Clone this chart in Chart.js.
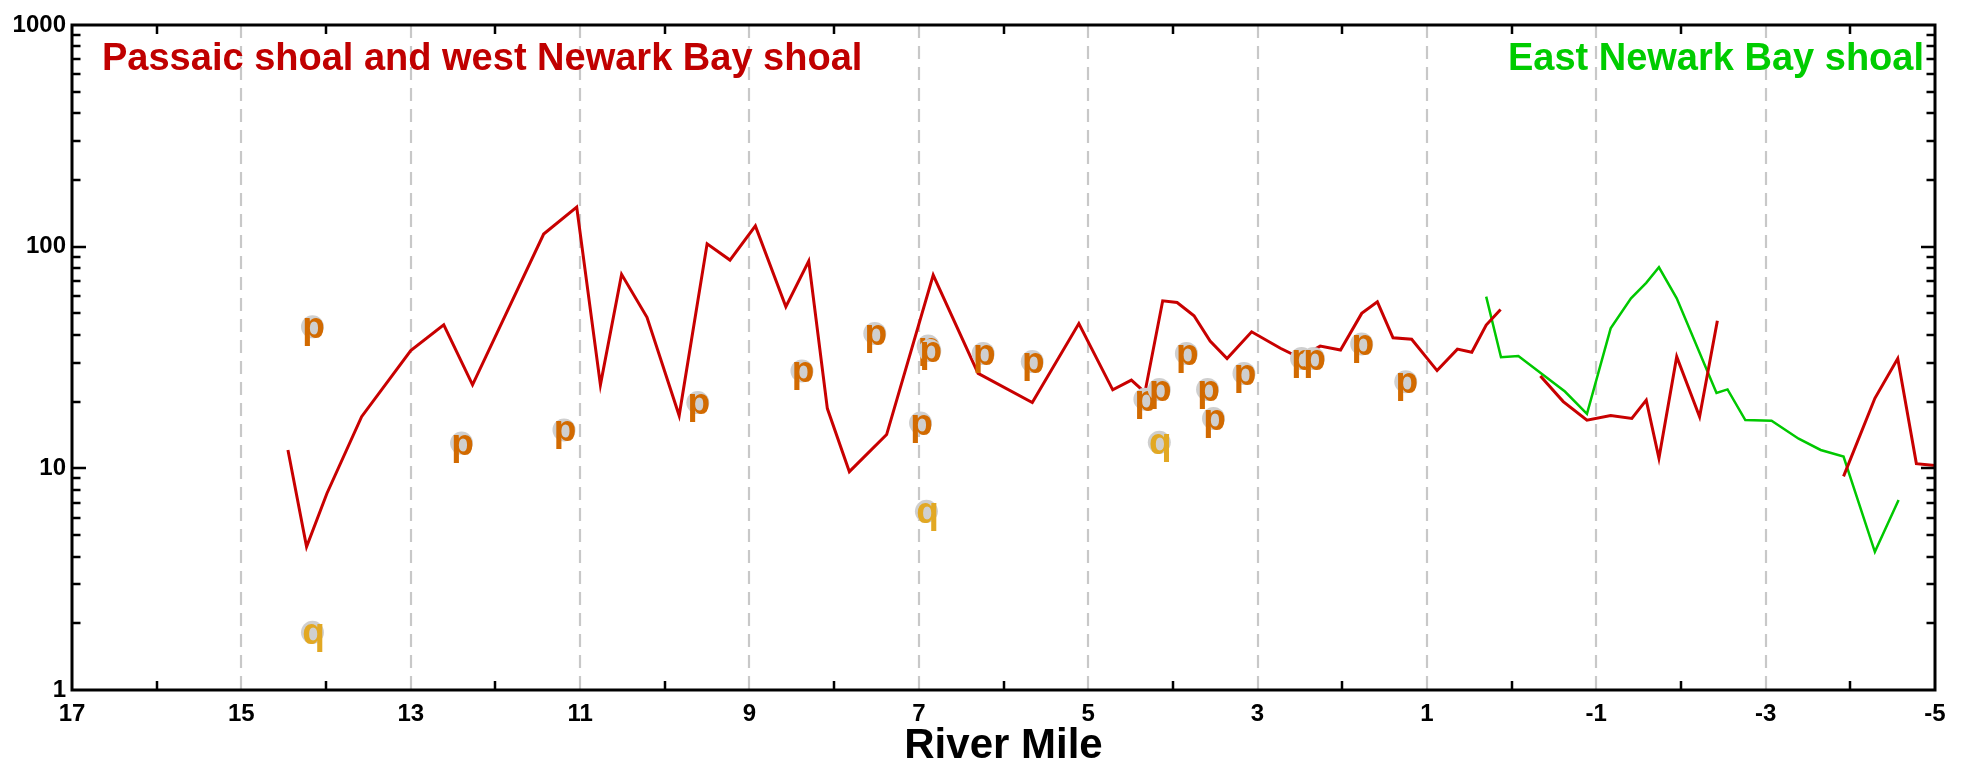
<!DOCTYPE html>
<html>
<head>
<meta charset="utf-8">
<script src="https://cdn.jsdelivr.net/npm/chart.js@4/dist/chart.umd.min.js"></script>
<style>
html,body{margin:0;padding:0;background:#fff;}
#c{display:block;}
</style>
</head>
<body>
<canvas id="c" width="1962" height="767"></canvas>
<script>
// ---- data ----
const redX = [14.45,14.23,13.99,13.58,13.0,12.61,12.27,11.43,11.04,10.76,10.51,10.21,9.83,9.50,9.23,8.93,8.57,8.30,8.08,7.82,7.38,6.83,6.30,5.66,5.11,4.71,4.49,4.33,4.12,3.95,3.75,3.56,3.36,3.07,2.73,2.50,2.26,2.02,1.77,1.585,1.40,1.18,0.88,0.64,0.47,0.30,0.13,
  0,
  -0.34,-0.61,-0.89,-1.17,-1.42,-1.59,-1.74,-1.95,-2.22,-2.43,
  -3.2,
  -3.92,-4.29,-4.56,-4.78,-5.0];
const redY = [12.1,4.43,7.7,17.1,34,44.4,23.8,114,151,23.8,75,48,17.3,103,87,124,53.6,86,18.6,9.66,14.2,74.5,26.8,19.8,45,22.6,25,22,57,56,48.8,37.5,31.3,41.3,34.8,31.5,35.6,34.2,50,56.4,38.8,38.2,27.6,34.5,33.4,44.3,52.1,
  null,
  26.1,20,16.5,17.3,16.8,20.3,11.1,31.9,17.1,46.3,
  null,
  9.2,20.7,31.3,10.5,10.3];
const greenX = [0.30,0.125,-0.08,-0.63,-0.89,-1.17,-1.41,-1.59,-1.74,-1.95,-2.42,-2.55,-2.76,-3.07,-3.39,-3.65,-3.92,-4.29,-4.57];
const greenY = [59.5,31.7,32.1,22.2,17.6,42.8,58.5,68.7,80.7,58.5,21.9,22.7,16.5,16.4,13.6,12.1,11.3,4.2,7.2];
const pX = [14.16,12.40,11.19,9.61,8.38,7.52,6.89,6.87,6.98,6.24,5.66,4.33,4.16,3.84,3.59,3.52,3.16,2.48,2.34,1.77,1.25];
const pY = [43.5,13.0,14.9,19.8,27.5,40.6,35.6,34.0,16.0,33.0,30.3,20.5,22.7,33.0,22.7,16.8,26.8,31.3,31.3,36.4,24.6];
const qX = [14.16,6.91,4.16];
const qY = [1.82,6.4,13.1];
const xLabelValues = [17,15,13,11,9,7,5,3,1,-1,-3,-5];
const yLabelValues = [1,10,100,1000];
const gridX = [15,13,11,9,7,5,3,1,-1,-3];
const evenTickX = [16,14,12,10,8,6,4,2,0,-2,-4];
const titleLeft = 'Passaic shoal and west Newark Bay shoal';
const titleRight = 'East Newark Bay shoal';
const xTitle = 'River Mile';

const FONT = '"Liberation Sans", Arial, Helvetica, sans-serif';
const toPts = (xs, ys) => xs.map((v, i) => ({x: v, y: ys[i]}));

const decorPlugin = {
  id: 'decor',
  beforeDatasetsDraw(chart) {
    const {ctx, chartArea: a, scales: {x}} = chart;
    ctx.save();
    ctx.strokeStyle = '#c8c8c8';
    ctx.lineWidth = 2.2;
    ctx.setLineDash([13, 8]);
    gridX.forEach(v => {
      const px = Math.round(x.getPixelForValue(v));
      ctx.beginPath(); ctx.moveTo(px, a.top); ctx.lineTo(px, a.bottom); ctx.stroke();
    });
    ctx.restore();
  },
  afterDatasetsDraw(chart) {
    const {ctx, chartArea: a, scales: {x, y}} = chart;
    ctx.save();
    // letter markers, placed at the library's computed point positions
    chart.data.datasets.forEach((ds, i) => {
      if (!ds.letter) return;
      const meta = chart.getDatasetMeta(i);
      meta.data.forEach(el => {
        ctx.fillStyle = '#cfcfcf';
        ctx.beginPath(); ctx.arc(el.x, el.y, 11.5, 0, Math.PI * 2); ctx.fill();
        ctx.fillStyle = ds.letterColor;
        ctx.font = 'bold 37px ' + FONT;
        ctx.textAlign = 'center';
        ctx.textBaseline = 'alphabetic';
        ctx.fillText(ds.letter, el.x + 1, el.y + 11.5);
      });
    });
    ctx.strokeStyle = '#000';
    ctx.lineWidth = 2.5;
    evenTickX.forEach(v => {
      const px = Math.round(x.getPixelForValue(v));
      ctx.beginPath();
      ctx.moveTo(px, a.bottom); ctx.lineTo(px, a.bottom - 9);
      ctx.moveTo(px, a.top); ctx.lineTo(px, a.top + 9);
      ctx.stroke();
    });
    [1, 10, 100].forEach(d => {
      for (let m = 1; m <= 9; m++) {
        const v = d * m;
        if (v === 1) continue;
        const len = m === 1 ? 14 : 8.5;
        const py = Math.round(y.getPixelForValue(v));
        ctx.beginPath();
        ctx.moveTo(a.left, py); ctx.lineTo(a.left + len, py);
        ctx.moveTo(a.right, py); ctx.lineTo(a.right - len, py);
        ctx.stroke();
      }
    });
    ctx.lineWidth = 3;
    ctx.strokeRect(a.left, a.top, a.right - a.left, a.bottom - a.top);
    ctx.restore();
  },
  afterDraw(chart) {
    const {ctx} = chart;
    ctx.save();
    ctx.font = 'bold 38px ' + FONT;
    ctx.textBaseline = 'alphabetic';
    ctx.fillStyle = '#C00000';
    ctx.textAlign = 'left';
    ctx.fillText(titleLeft, 102, 70);
    ctx.fillStyle = '#00CC00';
    ctx.textAlign = 'right';
    ctx.fillText(titleRight, 1924, 70);
    ctx.restore();
  }
};

new Chart(document.getElementById('c'), {
  type: 'scatter',
  data: {
    datasets: [
      {label: 'p', letter: 'p', letterColor: '#D26A00', data: toPts(pX, pY), pointRadius: 0, showLine: false, order: 0},
      {label: 'q', letter: 'q', letterColor: '#E2A823', data: toPts(qX, qY), pointRadius: 0, showLine: false, order: 0},
      {label: 'Passaic / west Newark Bay', data: toPts(redX, redY), showLine: true, spanGaps: false,
        borderColor: '#C80000', borderWidth: 3, pointRadius: 0, tension: 0, borderJoinStyle: 'miter', order: 1},
      {label: 'East Newark Bay', data: toPts(greenX, greenY), showLine: true, spanGaps: false,
        borderColor: '#00C800', borderWidth: 2.5, pointRadius: 0, tension: 0, borderJoinStyle: 'miter', order: 2}
    ]
  },
  options: {
    responsive: false,
    animation: false,
    devicePixelRatio: 1,
    layout: {padding: 0},
    plugins: {legend: {display: false}, tooltip: {enabled: false}},
    scales: {
      x: {
        type: 'linear', position: 'bottom', min: -5, max: 17, reverse: true,
        grid: {display: false, drawTicks: false}, border: {display: false},
        ticks: {
          stepSize: 1, autoSkip: false, maxRotation: 0, padding: 10,
          color: '#000', font: {family: FONT, size: 24, weight: 'bold'},
          callback: v => xLabelValues.includes(Math.round(v)) && Math.abs(v - Math.round(v)) < 1e-6 ? String(Math.round(v)) : ''
        },
        title: {display: true, text: xTitle, color: '#000', font: {family: FONT, size: 42, weight: 'bold', lineHeight: 1}, padding: {top: 0, bottom: 0}},
        afterFit: s => { s.height = 77; }
      },
      x2: {
        type: 'linear', position: 'top', min: -5, max: 17, reverse: true,
        grid: {display: false, drawTicks: false}, border: {display: false},
        ticks: {display: false},
        afterFit: s => { s.height = 25; }
      },
      y: {
        type: 'logarithmic', position: 'left', min: 1, max: 1000,
        grid: {display: false, drawTicks: false}, border: {display: false},
        ticks: {
          autoSkip: false, padding: 6,
          color: '#000', font: {family: FONT, size: 24, weight: 'bold'},
          callback: v => yLabelValues.includes(v) ? String(v) : ''
        },
        afterFit: s => { s.width = 72; }
      },
      y2: {
        type: 'logarithmic', position: 'right', min: 1, max: 1000,
        grid: {display: false, drawTicks: false}, border: {display: false},
        ticks: {display: false},
        afterFit: s => { s.width = 27; }
      }
    }
  },
  plugins: [decorPlugin]
});
</script>
</body>
</html>
